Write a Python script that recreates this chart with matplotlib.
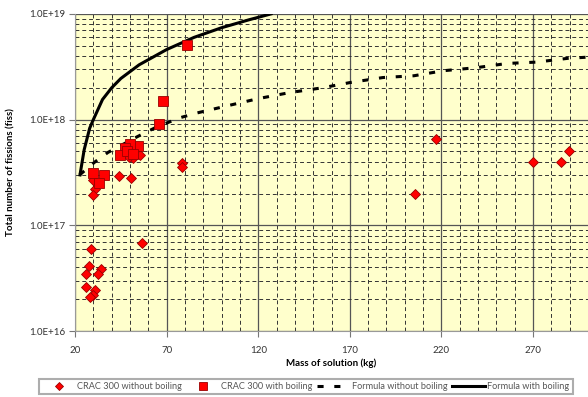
import numpy as np
import matplotlib
matplotlib.use("Agg")
import matplotlib.pyplot as plt
from matplotlib.ticker import FixedLocator, LogLocator, NullFormatter, FuncFormatter

# CRAC 300 points (mass in kg, fissions)
no_boil_x = [29.8, 31, 29.8, 44, 50.6, 51.7, 55.5, 49.5, 78.5, 78.5,
             28.7, 56.6, 27.7, 26, 34.2, 32.6, 26, 31, 29.8, 28.2,
             217, 205.8, 270, 285.5, 289.4]
no_boil_y = [2.7e17, 2.2e17, 1.95e17, 2.9e17, 2.8e17, 4.3e17, 4.6e17, 4.4e17, 3.9e17, 3.6e17,
             6.0e16, 6.8e16, 4.1e16, 3.5e16, 3.9e16, 3.5e16, 2.6e16, 2.45e16, 2.2e16, 2.1e16,
             6.6e17, 2.0e17, 4.0e17, 4.0e17, 5.0e17]

boil_x = [81.2, 68.1, 66, 54.4, 50, 47.3, 44.6, 48.4, 51.7, 29.8, 35.8, 33]
boil_y = [5.1e18, 1.5e18, 9.1e17, 5.6e17, 5.9e17, 5.4e17, 4.6e17, 5.0e17, 4.7e17, 3.1e17, 3.0e17, 2.5e17]

# formula curves
f_noboil_x = [22.5, 31, 38, 54, 65, 78, 86, 103, 120, 137, 155, 170, 188, 205, 221, 239, 256, 272, 289, 300]
f_noboil_y = [3.0e17, 4.0e17, 4.9e17, 6.9e17, 8.6e17, 1.05e18, 1.15e18, 1.35e18, 1.58e18, 1.8e18,
              2.0e18, 2.24e18, 2.5e18, 2.6e18, 2.9e18, 3.1e18, 3.4e18, 3.5e18, 3.8e18, 3.9e18]

f_boil_x = [22.7, 25, 28, 30, 35, 40, 45, 55, 70, 85, 100, 115, 127]
f_boil_y = [3.0e17, 5.2e17, 8.3e17, 1.0e18, 1.55e18, 2.0e18, 2.45e18, 3.3e18, 4.6e18, 6.0e18, 7.4e18, 8.8e18, 1.0e19]

x_ticks = [20, 70, 120, 170, 220, 270]

plt.rcParams['font.family'] = ['Lato', 'DejaVu Sans']

fig = plt.figure(figsize=(5.88, 3.97), dpi=100)
ax = fig.add_axes([0.1276, 0.166, 0.8724, 0.799])
ax.set_facecolor('#FFFFCC')

ax.plot(no_boil_x, no_boil_y, linestyle='none', marker='D', markersize=5.5,
        markerfacecolor='#FF0000', markeredgecolor='#990000', markeredgewidth=0.6,
        label='CRAC 300 without boiling', zorder=4)
ax.plot(boil_x, boil_y, linestyle='none', marker='s', markersize=7,
        markerfacecolor='#FF0000', markeredgecolor='#990000', markeredgewidth=0.6,
        label='CRAC 300 with boiling', zorder=4)
ax.plot(f_noboil_x, f_noboil_y, color='black', linewidth=2.2, dashes=(2, 3.5),
        label='Formula without boiling', zorder=3)
ax.plot(f_boil_x, f_boil_y, color='black', linewidth=2.2,
        label='Formula with boiling', zorder=3)

ax.set_yscale('log')
ax.set_xlim(20, 300)
ax.set_ylim(1e16, 1e19)

ax.xaxis.set_major_locator(FixedLocator(x_ticks))
ax.xaxis.set_minor_locator(FixedLocator(list(range(30, 300, 10))))
ax.yaxis.set_major_locator(LogLocator(base=10, numticks=10))
ax.yaxis.set_minor_locator(LogLocator(base=10, subs=np.arange(2, 10), numticks=20))
ax.yaxis.set_minor_formatter(NullFormatter())
ax.yaxis.set_major_formatter(FuncFormatter(lambda v, p: '1.0E+%d' % round(np.log10(v))))

ax.grid(which='major', color='#555555', linewidth=0.9, linestyle='-')
ax.grid(which='minor', color='#333333', linewidth=0.7, dashes=(4, 3))
ax.set_axisbelow(True)

ax.tick_params(which='major', length=4, width=0.8, color='#777777', labelsize=7,
               labelcolor='#333333')
ax.tick_params(axis='x', pad=7)
ax.tick_params(axis='y', pad=3)
ax.tick_params(which='minor', length=0)

for s in ['top', 'right']:
    ax.spines[s].set_visible(False)
for s in ['left', 'bottom']:
    ax.spines[s].set_color('#999999')

ax.set_xlabel('Mass of solution (kg)', fontsize=7, fontweight='bold', labelpad=2)
ax.set_ylabel('Total number of fissions (fiss)', fontsize=7, fontweight='bold', labelpad=10)

leg = fig.legend(loc='lower left', bbox_to_anchor=(0.065, 0.005), ncol=4, fontsize=6.6,
                 frameon=True, fancybox=False, handlelength=3.6, columnspacing=0.5,
                 handletextpad=0.2, borderpad=0.35, borderaxespad=0.1, markerscale=0.75)
leg.get_frame().set_edgecolor('#999999')
leg.get_frame().set_linewidth(1.5)
for t in leg.get_texts():
    t.set_color('#555555')

fig.savefig('out.png', dpi=100)
